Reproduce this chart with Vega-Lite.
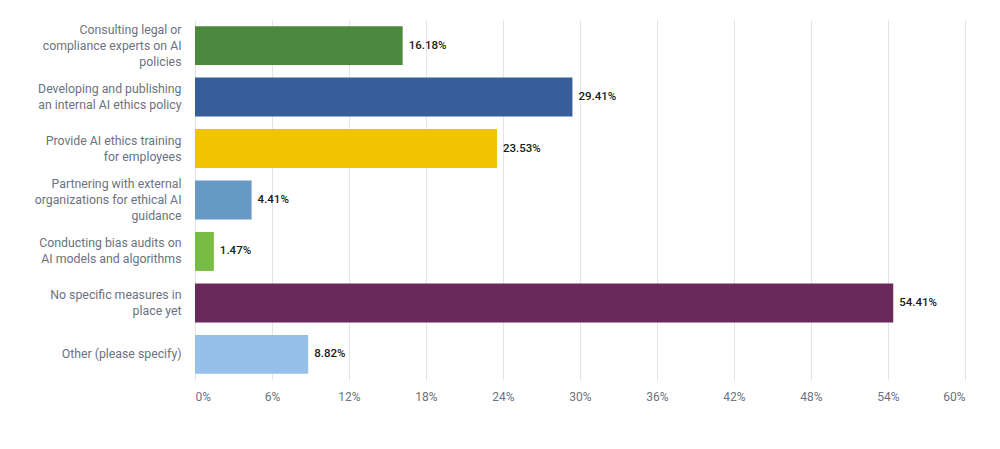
{
  "$schema": "https://vega.github.io/schema/vega-lite/v6.json",
  "autosize": "none",
  "width": 770,
  "height": 360,
  "padding": {"left": 195, "top": 20, "right": 35, "bottom": 69},
  "background": "white",
  "config": {
    "view": {"stroke": null},
    "font": "Roboto"
  },
  "data": {
    "values": [
      {"answer": "Consulting legal or|compliance experts on AI|policies", "share": 0.1618, "color": "#4b8a3e"},
      {"answer": "Developing and publishing|an internal AI ethics policy", "share": 0.2941, "color": "#365e9b"},
      {"answer": "Provide AI ethics training|for employees", "share": 0.2353, "color": "#f0c400"},
      {"answer": "Partnering with external|organizations for ethical AI|guidance", "share": 0.0441, "color": "#6699c3"},
      {"answer": "Conducting bias audits on|AI models and algorithms", "share": 0.0147, "color": "#78bd43"},
      {"answer": "No specific measures in|place yet", "share": 0.5441, "color": "#69295b"},
      {"answer": "Other (please specify)", "share": 0.0882, "color": "#95c0ea"}
    ]
  },
  "encoding": {
    "y": {
      "field": "answer",
      "type": "nominal",
      "sort": null,
      "title": null,
      "scale": {"paddingInner": 0.243, "paddingOuter": 0.12},
      "axis": {
        "domain": false,
        "ticks": false,
        "labelExpr": "split(datum.label, '|')",
        "labelFontSize": 12.3,
        "labelColor": "#6b7280",
        "labelLineHeight": 16,
        "labelBaseline": "middle",
        "labelOffset": {"expr": "-(length(split(datum.label, '|')) - 1) * 8"},
        "labelPadding": 14,
        "labelLimit": 200
      }
    },
    "x": {
      "field": "share",
      "type": "quantitative",
      "title": null,
      "scale": {"domain": [0, 0.6], "nice": false},
      "axis": {
        "values": [0, 0.06, 0.12, 0.18, 0.24, 0.3, 0.36, 0.42, 0.48, 0.54, 0.6],
        "format": ".0%",
        "domain": false,
        "ticks": false,
        "grid": true,
        "gridColor": "#e3e3e3",
        "gridWidth": 1,
        "labelFontSize": 12,
        "labelColor": "#6b7280",
        "labelPadding": 11
      }
    }
  },
  "layer": [
    {
      "mark": {"type": "bar"},
      "encoding": {
        "color": {"field": "color", "type": "nominal", "scale": null}
      }
    },
    {
      "mark": {"type": "text", "align": "left", "dx": 6, "fontSize": 11.5, "fontWeight": 500, "color": "#1a1a1a"},
      "encoding": {
        "text": {"field": "share", "type": "quantitative", "format": ".2%"}
      }
    }
  ]
}
